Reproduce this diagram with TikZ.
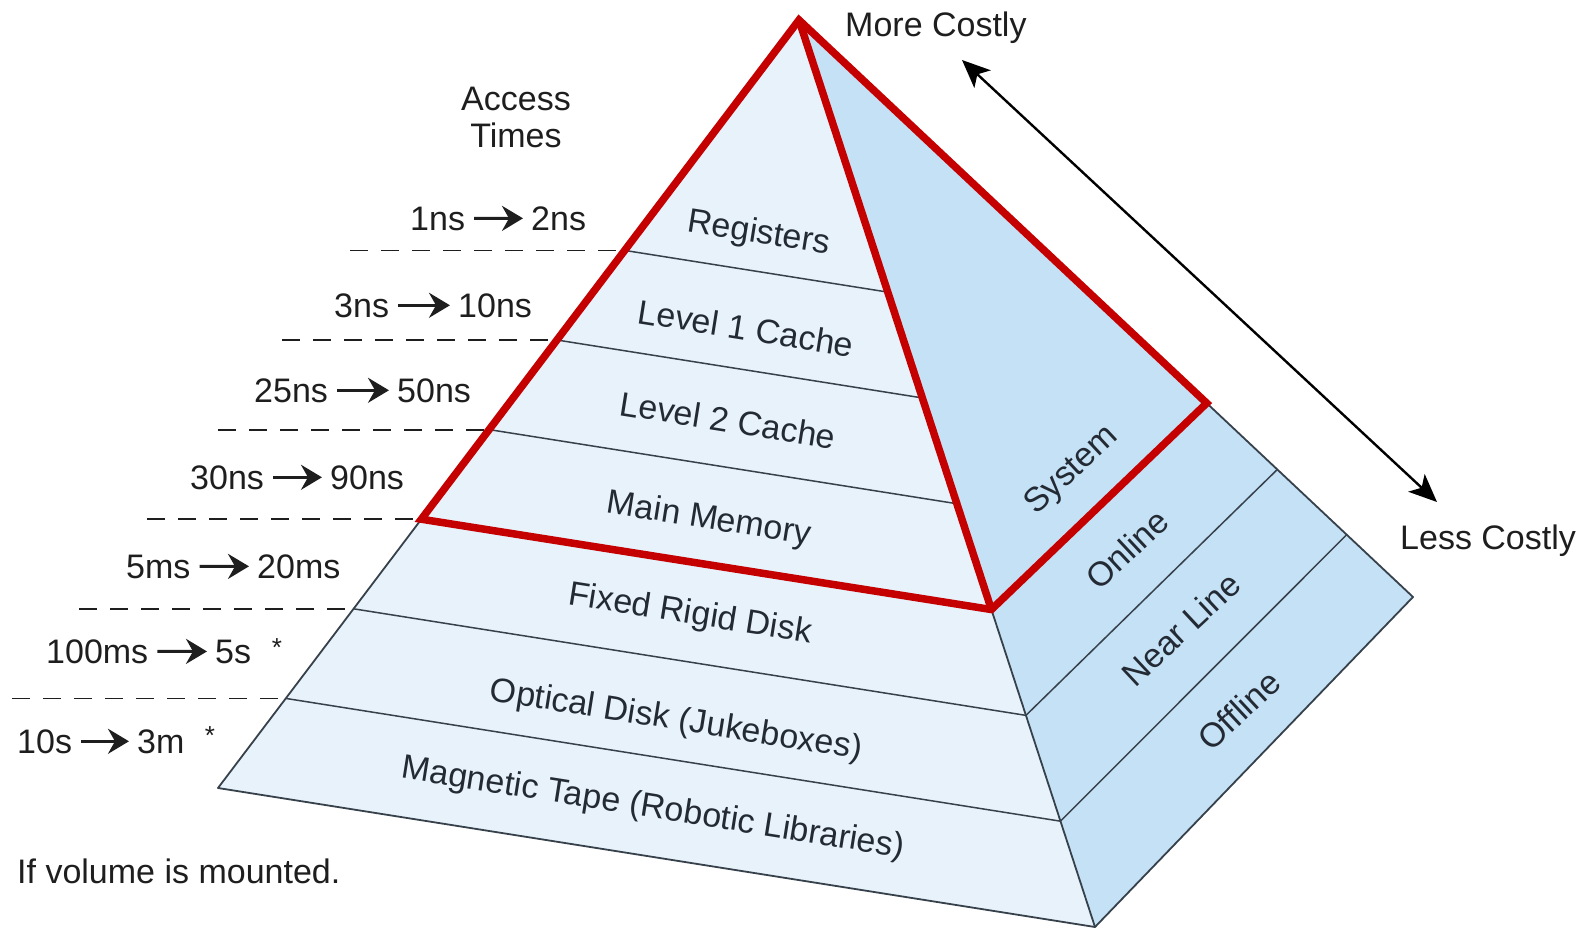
\documentclass[tikz,border=0pt]{standalone}
\usepackage{fontspec}
\setmainfont{Liberation Sans}
\usetikzlibrary{arrows.meta,calc}
\definecolor{frontc}{RGB}{232,242,251}
\definecolor{sidec}{RGB}{197,225,245}
\definecolor{edgec}{RGB}{55,65,75}
\definecolor{redc}{RGB}{196,0,0}
\definecolor{txtc}{RGB}{30,30,30}
\definecolor{lblc}{RGB}{35,42,52}
\newcommand{\bigfont}{\fontsize{34}{37}\selectfont}
\newcommand{\starfont}{\fontsize{26}{30}\selectfont}

\begin{document}
\begin{tikzpicture}[x=1pt,y=-1pt,
  txt/.style={font=\bigfont, text=txtc, inner sep=0pt},
  timelbl/.style={txt, anchor=base west},
  starlbl/.style={font=\starfont, text=txtc, inner sep=0pt},
  layerlbl/.style={txt, text=lblc, rotate=-9},
  sidelbl/.style={txt, text=lblc, rotate=43},
  tarrow/.style={line width=3pt, draw=txtc, -{Stealth[length=21pt,width=25pt,inset=7pt]}, shorten <=9pt, shorten >=8pt},
  dashline/.style={line width=1.8pt, draw=txtc, dash pattern=on 18pt off 13pt},
  edgeline/.style={draw=edgec, line width=1.8pt, line join=round},
  sepline/.style={draw=edgec, line width=1.5pt},
  redline/.style={draw=redc, line width=7.5pt, line join=miter},
  costarrow/.style={line width=2.4pt, draw=black, {Stealth[length=28pt,width=24pt,inset=7pt]}-{Stealth[length=28pt,width=24pt,inset=7pt]}},
]
\useasboundingbox (0,0) rectangle (1592,929);

% pyramid corners
\coordinate (A) at (799,20);
\coordinate (L) at (218,788);
\coordinate (F) at (1095,927);
\coordinate (R) at (1413,597);

\fill[frontc] (A) -- (L) -- (F) -- cycle;
\fill[sidec] (A) -- (F) -- (R) -- cycle;

% layer boundary points
\foreach \k/\tv in {0/0.3,1/0.41667,2/0.53333,3/0.65,4/0.76667,5/0.88333}{
  \coordinate (P\k) at ($(A)!\tv!(L)$);
  \coordinate (Q\k) at ($(A)!\tv!(F)$);
}
\coordinate (S3) at ($(A)!0.664!(R)$);
\coordinate (S4) at ($(A)!0.779!(R)$);
\coordinate (S5) at ($(A)!0.892!(R)$);

% layer lines on the front face
\foreach \k in {0,...,5}{
  \draw[sepline] (P\k) -- (Q\k);
}
% divisions on the side face
\draw[sepline] (Q4) -- (S4);
\draw[sepline] (Q5) -- (S5);

% outer edges
\draw[edgeline] (A) -- (L) -- (F) -- (R) -- cycle;
\draw[edgeline] (A) -- (F);

% dashed guide lines
\coordinate (D0) at (350,0 |- P0);
\coordinate (D1) at (282,0 |- P1);
\coordinate (D2) at (218,0 |- P2);
\coordinate (D3) at (147,0 |- P3);
\coordinate (D4) at (79,0 |- P4);
\coordinate (D5) at (12,0 |- P5);
\foreach \k in {0,...,5}{
  \draw[dashline] (D\k) -- (P\k);
}

% red outline
\draw[redline] (A) -- (P3) -- (Q3) -- (S3) -- cycle;
\draw[redline] (A) -- (Q3);

% cost arrow
\coordinate (MC) at (962,60);
\coordinate (LC) at (1437,502);
\draw[costarrow] (MC) -- (LC);
\node[timelbl] (more) at (845,36) {More Costly};
\node[timelbl] (less) at (1400,549) {Less Costly};

% access times
\node[txt, align=center] (acc) at (516,117) {Access\\Times};

\node[timelbl] (r1a) at (410,230) {1ns};
\node[timelbl] (r1b) at (531,230) {2ns};
\draw[tarrow] (r1a.east) -- (r1b.west);

\node[timelbl] (r2a) at (334,317) {3ns};
\node[timelbl] (r2b) at (458,317) {10ns};
\draw[tarrow] (r2a.east) -- (r2b.west);

\node[timelbl] (r3a) at (254,402) {25ns};
\node[timelbl] (r3b) at (397,402) {50ns};
\draw[tarrow] (r3a.east) -- (r3b.west);

\node[timelbl] (r4a) at (190,489) {30ns};
\node[timelbl] (r4b) at (330,489) {90ns};
\draw[tarrow] (r4a.east) -- (r4b.west);

\node[timelbl] (r5a) at (126,578) {5ms};
\node[timelbl] (r5b) at (257,578) {20ms};
\draw[tarrow] (r5a.east) -- (r5b.west);

\node[timelbl] (r6a) at (46,663) {100ms};
\node[timelbl] (r6b) at (215,663) {5s};
\draw[tarrow] (r6a.east) -- (r6b.west);
\node[starlbl] (st6) at (277,648) {*};

\node[timelbl] (r7a) at (17,753) {10s};
\node[timelbl] (r7b) at (137,753) {3m};
\draw[tarrow] (r7a.east) -- (r7b.west);
\node[starlbl] (st7) at (210,736) {*};

\node[timelbl] (note) at (17,883) {If volume is mounted.};

% layer labels
\node[layerlbl] (reg) at (759,234) {Registers};
\node[layerlbl] (l1) at (746,328) {Level 1 Cache};
\node[layerlbl] (l2) at (728,420) {Level 2 Cache};
\node[layerlbl] (mm) at (709,520) {Main Memory};
\node[layerlbl] (frd) at (690,615) {Fixed Rigid Disk};
\node[layerlbl] (od) at (676,721) {Optical Disk (Jukeboxes)};
\node[layerlbl] (mt) at (653,809) {Magnetic Tape (Robotic Libraries)};

% side labels
\node[sidelbl] (sys) at (1072,471) {System};
\node[sidelbl] (onl) at (1127,549) {Online};
\node[sidelbl] (nl) at (1181,629) {Near Line};
\node[sidelbl] (off) at (1239,710) {Offline};
\end{tikzpicture}
\end{document}
